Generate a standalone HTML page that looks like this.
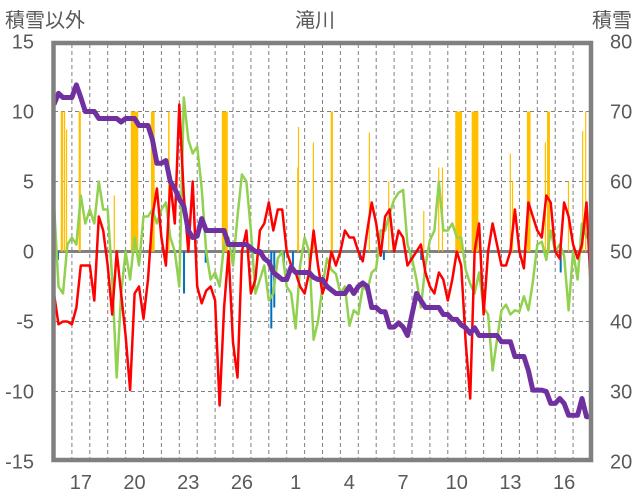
<!DOCTYPE html>
<html><head><meta charset="utf-8"><style>
html,body{margin:0;padding:0;background:#fff;}
svg{display:block;}
text{font-family:"Liberation Sans","Noto Sans CJK JP",sans-serif;fill:#595959;}
</style></head><body>
<svg id="chart" width="636" height="501" viewBox="0 0 636 501" xmlns="http://www.w3.org/2000/svg">
<text x="5" y="27" font-size="20">積雪以外</text>
<text x="315" y="27" font-size="20" text-anchor="middle">滝川</text>
<text x="632" y="27" font-size="20" text-anchor="end">積雪</text>
<g id="grid"></g>
<g id="bars"></g>
<g id="lines"></g>
<rect x="53.5" y="43" width="537.5" height="417" fill="none" stroke="#808080" stroke-width="4.5"/>
<g id="axes"></g>
</svg>
<script>
const hourStep = 6;
const totalHours = 720;
const dayLabels = ["17","20","23","26","1","4","7","10","13","16"];
const dayLabelIndex = [1,4,7,10,13,16,19,22,25,28];
const leftTicks = [15,10,5,0,-5,-10,-15];
const rightTicks = [80,70,60,50,40,30,20];
const redValues = [-3,-5.2,-5,-5,-5.2,-4,-1,-1,-1,-3.5,2.5,1.5,-1,-4.5,0,-3,-6,-9.9,-3,-2.5,-4.8,-2,2.5,4.5,1,-1,5,2,10.5,4,0,5,
-2.5,-3.7,-2.8,-2.5,-3.5,-11,-4,0,-6.5,-9,0,1.5,-3,-2,1.5,2,3.5,1.5,3,3,0,-1,-1.5,-2.5,-3,-1.5,1.5,-1,-3,-2,
0,-1,0,1.5,1,1,0,-0.7,1.5,3.5,2,-0.3,2.5,3,0,1.5,1,-1,-0.5,0,0.5,-1.5,-2.5,-3,-1.5,-2,-3.5,-2,0,-1,
-6.5,-10.5,0,2,-4.5,0,2,0.5,-1,-1,0,3,0,-1.2,3.5,2.5,1.5,1,4,3.5,0,-0.5,3.5,2.5,0.5,-0.5,0.5,3.5,-3];
const greenValues = [3.4,-2.5,-3,0.5,1,0.5,4,2,3,2,5,3,3,-2,-9,-3,0,-2,1,-1,2.5,2.5,3,2,3,3.5,1,0,-2.5,11,8,7,
7.5,4.5,0,-2,-1.5,-2.5,0.5,1,-1,2.5,5.5,5,1.5,-3,-2,-1,-3.5,-3,-0.5,0,-2.5,-3,-5.5,-1,1,0,-6.3,-5,-2.5,-0.5,
-1.3,-1.6,-3,-2.5,-5.3,-4.2,-4.5,-2.5,-2.8,-1.5,-1.2,1.5,1.5,2.7,3.7,4.2,4.4,0.5,-0.5,-2,-4,-1,0.8,1.5,5,1.5,1.5,2,1,1,
-1.3,-2.3,-3,-1.5,-4,-4.5,-8.5,-6.3,-4.2,-3.8,-4.5,-4.2,-4.3,-3.2,-4.2,-2.2,0.5,0.7,-0.6,1.5,0,0.5,-0.3,-4.2,0,-2,2,1,1.8];
const snowDepth = [71,72.6,72,72,72,73.8,72,70,70,70,69,69,69,69,69,68.5,69,69,69,68,68,68,66,62.6,62.6,63,60,59,57.5,56.5,53,52,
52.2,54.7,53,53,53,53,53,51,51,51,51,51,50.5,50,50,49,48.5,47,46.5,46,46,47.8,47,47,47,47,46.3,46,46,45,
44.5,44,44,44,45,44,45,45.5,45,42,42,41.4,41.4,39.2,39.2,39.8,39.2,38,41,44,43,42,42,42,42,41,41,40.3,40.3,39.5,
39.1,38.3,39.1,38,38,38,38,38,37.1,37.1,37.1,35,35,35,33,30.2,30.2,30.2,30,28.3,28.3,29,28.3,26.6,26.6,26.6,29,26.4,26.4];
const precipStart = [9,13,16,33,80,103,130,153,225,326,327,347,371,422,448,495,515,520,538,560,611,614,634,658,661,689,708,712];
const precipHours = [3,2,1,3,1,10,5,2,8,1,1,1,3,1,1,1,1,1,9,9,1,1,5,1,4,1,1,1];
const precipValue = [10,10,8.7,10,4,10,10,10,10,6,8.9,7.8,10,8.5,5,2.9,6,6,10,10,7,5,10,7.8,10,5,8.6,10];
const negStart = [4,173,202,290,294,307,319,409,441,477,491,678];
const negValue = [-0.6,-3,-0.8,-5.5,-4,-1,-1,-0.6,-0.6,-0.6,-0.6,-1.5];

const NS="http://www.w3.org/2000/svg";
const X0=54, X1=591;
function xH(h){return X0+(X1-X0)*h/totalHours;}
function yL(v){return 251.5-14*v;}
function yR(s){return 251.5-7*(s-50);}
function mk(tag,attrs,parent){const e=document.createElementNS(NS,tag);for(const k in attrs)e.setAttribute(k,attrs[k]);parent.appendChild(e);return e;}
const grid=document.getElementById('grid'),bars=document.getElementById('bars'),lines=document.getElementById('lines'),axes=document.getElementById('axes');
[10,5,-5,-10].forEach(v=>{const l=mk('line',{x1:X0,x2:X1,y1:yL(v),y2:yL(v),stroke:'#808080','stroke-width':1,'stroke-dasharray':'4 3'},grid);

});
for(let d=1;d<30;d++){const x=xH(d*24);const l=mk('line',{x1:x,x2:x,y1:44,y2:460,stroke:'#808080','stroke-width':1,'stroke-dasharray':'4 3'},grid);

}
precipStart.forEach((h,i)=>{const v=Math.min(precipValue[i],10);const x=xH(h);const w=Math.max(xH(h+precipHours[i])-x,1.2);
const r=mk('rect',{x:x,y:yL(v),width:w,height:yL(0)-yL(v),fill:'#ffc000'},bars);

});
negStart.forEach((h,i)=>{const x=xH(h);
const r=mk('rect',{x:x,y:yL(0),width:2,height:yL(negValue[i])-yL(0),fill:'#0070c0'},bars);

});
const zl=mk('line',{x1:X0,x2:X1,y1:yL(0),y2:yL(0),stroke:'#808080','stroke-width':3},grid);


function pts(arr,yf){return arr.map((v,i)=>xH(i*hourStep).toFixed(1)+','+yf(v).toFixed(1)).join(' ');}
const g=mk('polyline',{points:pts(greenValues,yL),fill:'none',stroke:'#92d050','stroke-width':2.5,'stroke-linejoin':'round'},lines);


const r=mk('polyline',{points:pts(redValues,yL),fill:'none',stroke:'#ff0000','stroke-width':2.5,'stroke-linejoin':'round'},lines);


const p=mk('polyline',{points:pts(snowDepth,yR),fill:'none',stroke:'#7030a0','stroke-width':5,'stroke-linejoin':'round'},lines);


leftTicks.forEach(v=>{const t=mk('text',{x:34,y:yL(v)+7,'font-size':20,'text-anchor':'end'},axes);t.textContent=v;

});
rightTicks.forEach(s=>{const t=mk('text',{x:610,y:yR(s)+7,'font-size':20},axes);t.textContent=s;

});
dayLabels.forEach((lab,i)=>{const t=mk('text',{x:xH(dayLabelIndex[i]*24+12),y:489,'font-size':20,'text-anchor':'middle'},axes);t.textContent=lab;

});
</script>
</body></html>
